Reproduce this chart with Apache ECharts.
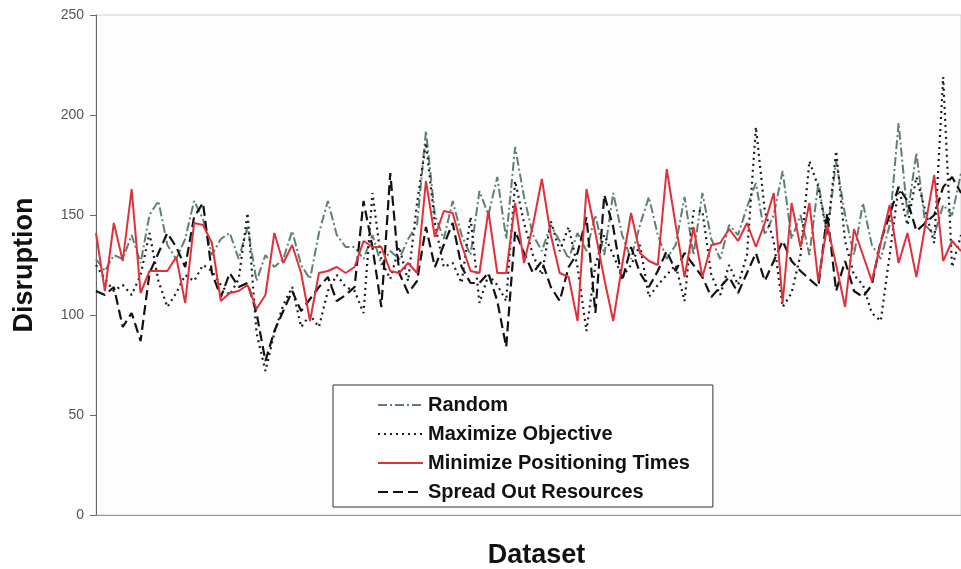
<!DOCTYPE html>
<html>
<head>
<meta charset="utf-8">
<script src="https://cdn.jsdelivr.net/npm/echarts@6/dist/echarts.min.js"></script>
<style>
  html, body { margin: 0; padding: 0; background: #fff; }
  #chart { width: 961px; height: 569px; }
</style>
</head>
<body>
<div id="chart"></div>
<script>
// values, one per dataset
const randomData = [128,122,130,128,140,126,150,157,135,128,138,157,148,130,138,141,128,144,117,130,
  124,128,142,125,118,141,157,140,134,134,128,140,125,132,128,138,145,192,150,138,
  157,140,130,162,150,169,138,184,159,140,132,145,137,128,141,132,150,130,161,140,
  128,145,159,140,128,135,159,130,161,138,128,145,140,154,166,140,150,172,138,150,
  130,166,140,177,150,130,156,135,128,145,196,150,181,145,140,155,150,171];

const maxObjData = [125,118,112,115,110,120,141,117,104,111,120,117,125,122,115,110,118,151,91,72,
  91,105,114,94,100,94,112,120,114,112,101,161,127,118,134,117,156,186,146,124,
  126,116,149,106,120,115,107,167,146,130,120,147,132,144,124,92,125,140,130,119,
  125,135,109,115,120,125,107,152,152,120,110,125,115,130,194,152,137,104,111,130,
  177,164,140,182,137,120,115,101,97,130,164,145,169,152,136,219,124,140];

const minPosData = [141,112,146,127,163,111,122,122,122,129,106,146,145,136,107,111,112,115,103,110,
  141,126,135,121,97,121,122,124,121,124,137,134,134,122,121,126,121,167,139,152,
  151,135,122,121,152,121,121,156,126,145,168,140,121,119,97,163,141,118,97,125,
  151,131,127,125,173,145,119,144,119,135,136,143,137,146,134,146,161,106,156,134,
  156,117,145,125,104,143,130,117,136,155,126,141,119,145,170,127,137,132];

const spreadData = [112,110,114,94,101,87,121,131,141,134,124,149,156,121,109,121,114,116,101,77,
  92,102,112,102,108,114,119,107,110,114,157,134,104,171,121,111,117,144,124,135,
  146,124,116,116,121,107,84,142,131,121,127,114,107,124,131,149,101,160,144,117,
  134,121,114,122,132,122,131,125,119,109,114,119,111,121,131,117,127,137,127,122,
  118,114,151,112,127,112,109,115,137,150,164,157,142,146,150,164,169,161];

const datasets = randomData.map((v, i) => String(i + 1));

const fontFamily = "Liberation Sans, Arial, sans-serif";

const chart = echarts.init(document.getElementById("chart"));

const option = {
  animation: false,
  backgroundColor: "#fff",
  grid: {
    left: 96,
    right: 0,
    top: 15,
    bottom: 54,
    outerBoundsMode: "none",
    containLabel: false,
    show: true,
    backgroundColor: "#fdfdfd",
    borderColor: "#cfcfcf",
    borderWidth: 1,
  },
  legend: {
    orient: "vertical",
    left: 333,
    top: 385,
    padding: [10, 23, 5, 44],
    itemWidth: 45,
    itemHeight: 14,
    itemGap: 9,
    backgroundColor: "#fff",
    borderColor: "#333",
    borderWidth: 1,
    itemStyle: { opacity: 0 },
    textStyle: {
      fontFamily: fontFamily,
      fontSize: 20,
      fontWeight: "bold",
      color: "#111",
    },
    data: ["Random", "Maximize Objective", "Minimize Positioning Times", "Spread Out Resources"],
  },
  xAxis: {
    type: "category",
    data: datasets,
    boundaryGap: false,
    name: "Dataset",
    nameLocation: "center",
    nameGap: 27,
    nameTextStyle: { fontFamily: fontFamily, fontSize: 27, fontWeight: "bold", color: "#111", padding: [0, 0, 0, 16] },
    axisLine: { lineStyle: { color: "#999" } },
    axisTick: { show: false },
    axisLabel: { show: false },
  },
  yAxis: {
    type: "value",
    min: 0,
    max: 250,
    interval: 50,
    name: "Disruption",
    nameLocation: "center",
    nameGap: 58,
    nameTextStyle: { fontFamily: fontFamily, fontSize: 27, fontWeight: "bold", color: "#111" },
    axisLine: { show: true, lineStyle: { color: "#666" } },
    axisTick: { show: true, length: 6, lineStyle: { color: "#666" } },
    axisLabel: { fontFamily: fontFamily, fontSize: 14, color: "#555", margin: 12 },
    splitLine: { show: false },
  },
  series: [
    {
      name: "Random",
      type: "line",
      data: randomData,
      symbol: "none",
      z: 2,
      itemStyle: { color: "#5f7f70" },
      lineStyle: { color: "#5f7f70", width: 2, type: [9, 3, 2, 3] },
    },
    {
      name: "Maximize Objective",
      type: "line",
      data: maxObjData,
      symbol: "none",
      z: 3,
      itemStyle: { color: "#1a1a2a" },
      lineStyle: { color: "#1a1a2a", width: 2.2, type: [2, 4] },
    },
    {
      name: "Minimize Positioning Times",
      type: "line",
      data: minPosData,
      symbol: "none",
      z: 5,
      itemStyle: { color: "#e0303a" },
      lineStyle: { color: "#e0303a", width: 2 },
    },
    {
      name: "Spread Out Resources",
      type: "line",
      data: spreadData,
      symbol: "none",
      z: 4,
      itemStyle: { color: "#111" },
      lineStyle: { color: "#111", width: 2.2, type: [10, 5] },
    },
  ],
};

chart.setOption(option);
</script>
</body>
</html>
